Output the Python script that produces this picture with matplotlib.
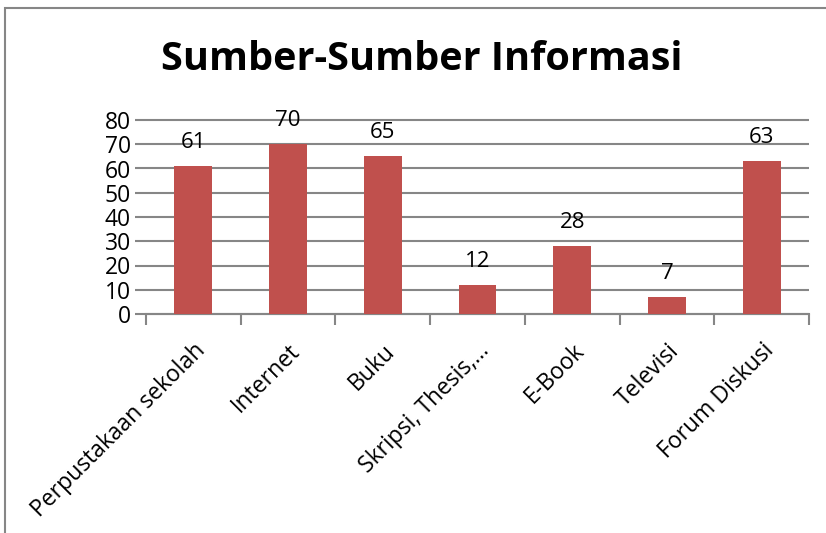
import matplotlib
matplotlib.use('Agg')
import matplotlib.pyplot as plt
from matplotlib.patches import Rectangle
import numpy as np

# Data
categories = ['Perpustakaan sekolah', 'Internet', 'Buku', 'Skripsi, Thesis,\u2026',
              'E-Book', 'Televisi', 'Forum Diskusi']
values = [61, 70, 65, 12, 28, 7, 63]
yticks = [0, 10, 20, 30, 40, 50, 60, 70, 80]

plt.rcParams['font.family'] = ['Open Sans', 'DejaVu Sans']

fig = plt.figure(figsize=(8.26, 5.33), dpi=100)
ax = fig.add_axes([146/826, 219/533, 663/826, 194/533])

x = np.arange(len(categories))
ax.bar(x, values, width=0.4, color='#C0504D', zorder=3)
for xi, v in zip(x, values):
    ax.text(xi, v + 5.5, str(v), ha='center', va='bottom', fontsize=16)

ax.set_xlim(-0.5, len(categories) - 0.5)
ax.set_ylim(0, 80)
ax.set_yticks(yticks)
ax.hlines(yticks, -0.5, len(categories) - 0.5, color='#868686', linewidth=1.5,
          zorder=1, clip_on=False)
ax.tick_params(axis='y', length=8, width=1.5, color='#868686', labelsize=16.5, pad=3)

# category ticks at boundaries
ax.set_xticks(np.arange(-0.5, len(categories), 1.0))
ax.set_xticklabels([])
ax.set_xticks(x, minor=True)
ax.set_xticklabels(categories, minor=True, rotation=45, ha='right', va='top',
                   rotation_mode='anchor', fontsize=16.5)
ax.tick_params(axis='x', which='major', length=8, width=1.5, color='#868686')
ax.tick_params(axis='x', which='minor', length=0, pad=18)

for s in ['top', 'right', 'left']:
    ax.spines[s].set_visible(False)
ax.spines['bottom'].set_color('#868686')
ax.spines['bottom'].set_linewidth(1.5)

fig.text(0.511, 1 - 60/533, 'Sumber-Sumber Informasi', ha='center', va='center',
         fontsize=28.5, fontweight='bold')

# chart border (only left and top visible)
fig.patches.append(Rectangle((5/826, -0.1), 1.2, (533 - 8)/533 + 0.1,
                             transform=fig.transFigure, fill=False,
                             edgecolor='#868686', linewidth=1.5))

fig.savefig('out.png', dpi=100)
